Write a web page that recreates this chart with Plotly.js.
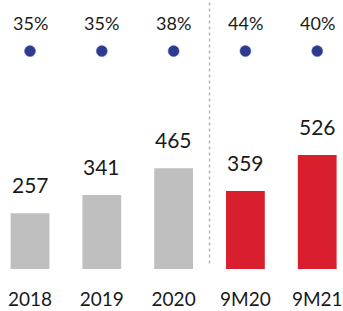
<!DOCTYPE html>
<html><head><meta charset="utf-8">
<script src="https://cdn.plot.ly/plotly-3.0.1.min.js"></script>
<style>html,body{margin:0;padding:0;background:#fff}#c{width:343px;height:311px}</style>
</head><body><div id="c"></div>
<script>
const categories = ['2018','2019','2020','9M20','9M21'];
const values = [257, 341, 465, 359, 526];
const margins = [35, 35, 38, 44, 40];
const barColors = ['#bfbfbf','#bfbfbf','#bfbfbf','#d91f2d','#d91f2d'];
const FONT = 'Lato, "Open Sans", sans-serif';

const traces = [
  {type:'bar', x:categories, y:values, marker:{color:barColors}, width:0.54, hoverinfo:'none'},
  {type:'scatter', mode:'markers', x:categories, y:categories.map(()=>0.81), yaxis:'y2',
   marker:{color:'#2e3a8c', size:11, line:{color:'#4a5cc0', width:0.5}}, hoverinfo:'none'}
];
const annotations = [];
categories.forEach((c,i)=>{
  annotations.push({x:i, y:values[i], xref:'x', yref:'y', text:String(values[i]), showarrow:false,
    yanchor:'bottom', yshift:14, font:{family:FONT, size:21, color:'#1a1a1a'}});
  annotations.push({x:i, y:0.81, xref:'x', yref:'y2', text:margins[i]+'%', showarrow:false,
    yanchor:'bottom', yshift:15, font:{family:FONT, size:18, color:'#1a1a1a'}});
});
const layout = {
  width:343, height:311, margin:{l:0,r:0,t:0,b:42},
  paper_bgcolor:'#fff', plot_bgcolor:'#fff', showlegend:false,
  xaxis:{type:'category', range:[-0.418,4.359], showgrid:false, zeroline:false, showline:false,
    ticks:'outside', ticklen:13, tickcolor:'rgba(0,0,0,0)',
    tickfont:{family:FONT, size:19, color:'#1a1a1a'}},
  yaxis:{range:[0,1240], visible:false, showgrid:false, zeroline:false},
  yaxis2:{range:[0,1], overlaying:'y', visible:false, showgrid:false, zeroline:false},
  shapes:[{type:'line', xref:'x', yref:'paper', x0:2.5, x1:2.5, y0:0.02, y1:1,
    line:{color:'#b8b8b8', width:1.5, dash:'dot'}}],
  annotations:annotations
};
Plotly.newPlot('c', traces, layout, {staticPlot:true});
</script></body></html>
